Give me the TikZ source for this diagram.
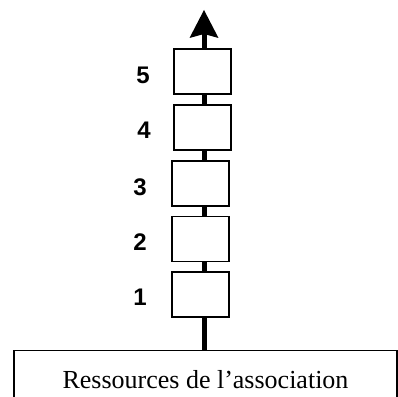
\documentclass[tikz,border=0pt]{standalone}
\usepackage{fontspec}
\setmainfont{Liberation Serif}
\newfontfamily\labfont{Liberation Sans}
\usetikzlibrary{arrows.meta}

\begin{document}
\begin{tikzpicture}[x=1pt, y=-1pt, >={Stealth[length=28pt, width=29pt, inset=4pt, line width=0pt]}]
    \tikzstyle{cell}=[rectangle, draw, line width=1.2pt, minimum width=57pt, minimum height=45pt, inner sep=0pt, fill=white]
    \tikzstyle{rank}=[inner sep=0pt, font=\labfont\bfseries\fontsize{24}{24}\selectfont]
    \tikzstyle{base}=[rectangle, draw, line width=1.4pt, minimum width=383pt, minimum height=58pt, anchor=north, font=\fontsize{26}{26}\selectfont]
    \tikzstyle{stem}=[line width=5pt]

    \useasboundingbox (0,0) rectangle (398,396);
    \clip (0,0) rectangle (398,396);

    \node[cell] (c5) at (202.5,71.5) {};
    \node[cell] (c4) at (202.5,127.5) {};
    \node[cell] (c3) at (200.5,183.5) {};
    \node[cell] (c2) at (200.5,239) {};
    \node[cell] (c1) at (200.5,294.5) {};
    \node[base] (res) at (205.5,350) {Ressources de l'association};
    \coordinate (tip) at (204,10);

    \node[rank] (n5) at (143,75) {5};
    \node[rank] (n4) at (144,130) {4};
    \node[rank] (n3) at (140,187) {3};
    \node[rank] (n2) at (140,242) {2};
    \node[rank] (n1) at (140,297) {1};

    \draw[stem] (res.north -| tip) -- (c1.south -| tip);
    \draw[stem] (c1.north -| tip) -- (c2.south -| tip);
    \draw[stem] (c2.north -| tip) -- (c3.south -| tip);
    \draw[stem] (c3.north -| tip) -- (c4.south -| tip);
    \draw[stem] (c4.north -| tip) -- (c5.south -| tip);
    \draw[stem, ->] (c5.north -| tip) -- (tip);

\end{tikzpicture}
\end{document}
